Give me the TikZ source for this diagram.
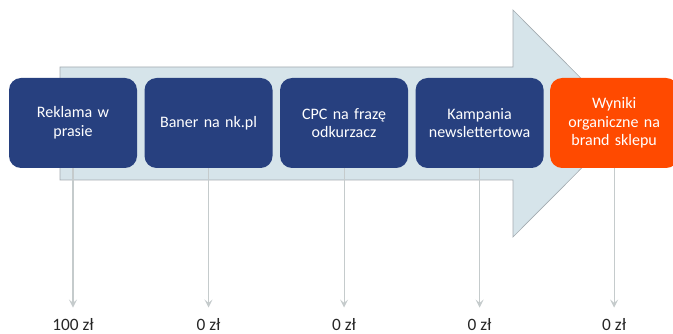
\documentclass[tikz,border=0pt]{standalone}
\usepackage{fontspec}
\setmainfont{Carlito}
\usetikzlibrary{arrows.meta, positioning}
\definecolor{stagenavy}{HTML}{27407F}
\definecolor{stageorange}{HTML}{FF4A00}
\definecolor{arrowfill}{HTML}{D6E4EA}
\definecolor{arrowedge}{HTML}{A3ABB0}
\definecolor{linegray}{HTML}{C5CBCC}

\begin{document}
\begin{tikzpicture}[x=0.75pt, y=-0.75pt,
    stage/.style={fill=stagenavy, rounded corners=9pt, minimum width=96pt,
      minimum height=67.5pt, text width=86pt, align=center, text=white,
      font=\fontsize{12}{14}\selectfont},
    cost/.style={text=black!85, font=\fontsize{13}{15}\selectfont},
    costline/.style={draw=linegray, line width=0.8pt,
      -{Stealth[length=6pt, width=6pt, inset=2.5pt]}, shorten >=5pt}]
      \useasboundingbox (0,0) rectangle (673,334);

      % Big arrow in the background
      \draw[fill=arrowfill, draw=arrowedge, line width=0.5pt]
        (60,67) -- (513,67) -- (513,10) -- (626,123.5) -- (513,237)
        -- (513,180) -- (60,180) -- cycle;

      % Stages
      \node[stage] (reklama) at (73,123) {Reklama w\\prasie};
      \node[stage, right=5.25pt of reklama] (baner) {Baner na nk.pl};
      \node[stage, right=5.25pt of baner] (cpc) {CPC na frazę\\odkurzacz};
      \node[stage, right=5.25pt of cpc] (kampania) {Kampania\\newslettertowa};
      \node[stage, fill=stageorange, right=4.5pt of kampania] (wyniki)
        {Wyniki\\organiczne na\\brand sklepu};

      % Costs
      \node[cost] (kosztA) at (reklama |- 0,325) {100 zł};
      \node[cost] (kosztB) at (baner |- 0,325) {0 zł};
      \node[cost] (kosztC) at (cpc |- 0,325) {0 zł};
      \node[cost] (kosztD) at (kampania |- 0,325) {0 zł};
      \node[cost] (kosztE) at (wyniki |- 0,325) {0 zł};

      \foreach \s/\k in {reklama/kosztA, baner/kosztB, cpc/kosztC,
                         kampania/kosztD, wyniki/kosztE}
        \draw[costline] (\s.south) -- (\k.north);
    \end{tikzpicture}
\end{document}
